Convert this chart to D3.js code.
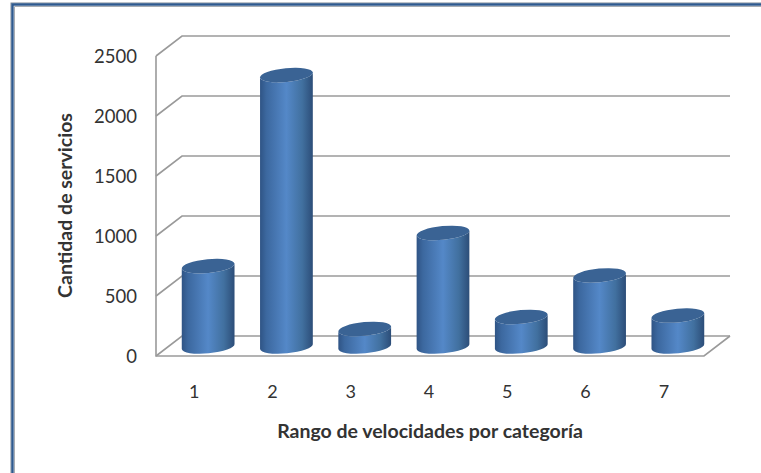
<!DOCTYPE html>
<html>
<head>
<meta charset="utf-8">
<script src="https://cdn.jsdelivr.net/npm/d3@7"></script>
<style>
html,body{margin:0;padding:0;background:#fff;}
svg{display:block;}
text{font-family:Lato,"Open Sans",sans-serif;fill:#333;}
</style>
</head>
<body>
<svg id="chart" width="761" height="473"></svg>
<script>
// Chart data
const categories = [1, 2, 3, 4, 5, 6, 7];
const services = [670, 2262, 146, 946, 246, 592, 258];
const yTicks = [0, 500, 1000, 1500, 2000, 2500];
const xTitle = "Rango de velocidades por categoría";
const yTitle = "Cantidad de servicios";

const svg = d3.select("#chart");

// Frame around the chart area
svg.append("rect").attr("x", 11).attr("y", 3).attr("width", 760).attr("height", 490)
  .attr("fill", "#fff").attr("stroke", "#808a96").attr("stroke-width", 1);
svg.append("path").attr("d", "M12.5,473V4.5H761").attr("fill", "none")
  .attr("stroke", "#2f5a8f").attr("stroke-width", 2.4);
svg.append("path").attr("d", "M14.5,473V6.5H761").attr("fill", "none")
  .attr("stroke", "#a9adb2").attr("stroke-width", 1);

// Front plane scales, with the depth offset of the 3D box
const depthX = 26, depthY = -20;
const x = d3.scaleBand().domain(categories).range([156, 704]);
const y = d3.scaleLinear().domain([0, 2500]).range([356, 56]);
// Bars stand in the middle of the box depth
const yBar = d3.scaleLinear().domain([0, 2500]).range([346.5, 46.5]);

const gridColor = "#9a9a9a";
const box = svg.append("g").attr("fill", "none").attr("stroke", gridColor).attr("stroke-width", 1.6);

// Gridlines: left wall diagonal plus back wall run
box.selectAll("path.grid").data(yTicks).join("path").attr("class", "grid")
  .attr("d", d => {
    const p = d3.path();
    p.moveTo(156, y(d));
    p.lineTo(156 + depthX, y(d) + depthY);
    p.lineTo(704 + depthX, y(d) + depthY);
    return p.toString();
  });

// Left wall front edge and floor outline
box.append("path").attr("d", () => {
  const p = d3.path();
  p.moveTo(156, y(2500));
  p.lineTo(156, y(0));
  p.lineTo(704, y(0));
  p.lineTo(704 + depthX, y(0) + depthY);
  return p.toString();
});

// Horizontal shading of the cylinder walls
const defs = svg.append("defs");
const grad = defs.append("linearGradient").attr("id", "wall")
  .attr("x1", "0").attr("x2", "1").attr("y1", "0").attr("y2", "0");
[[0, "#2f5485"], [0.12, "#3c689f"], [0.5, "#5488c8"], [0.8, "#41709f"], [1, "#2c4d78"]]
  .forEach(([o, c]) => grad.append("stop").attr("offset", o).attr("stop-color", c));

// Cylinders
const rx = 26.5, ry = 6.9, tilt = 5.5;
const dx = rx * Math.cos(tilt * Math.PI / 180), dy = rx * Math.sin(tilt * Math.PI / 180);
const bars = svg.append("g").selectAll("g").data(categories.map((c, i) => ({ c, v: services[i] })))
  .join("g");

bars.append("path")
  .attr("fill", "url(#wall)")
  .attr("d", d => {
    const cx = x(d.c) + x.bandwidth() / 2 + depthX / 2;
    const t = yBar(d.v), b = yBar(0);
    return `M${cx - dx},${t + dy}L${cx - dx},${b + dy}` +
      `A${rx},${ry} ${-tilt} 0 0 ${cx + dx},${b - dy}` +
      `L${cx + dx},${t - dy}` +
      `A${rx},${ry} ${-tilt} 0 1 ${cx - dx},${t + dy}Z`;
  });

bars.append("ellipse")
  .attr("fill", "#3a6394")
  .attr("rx", rx).attr("ry", ry)
  .attr("transform", d => {
    const cx = x(d.c) + x.bandwidth() / 2 + depthX / 2;
    return `translate(${cx},${yBar(d.v)}) rotate(${-tilt})`;
  });

// Axis labels
svg.append("g").selectAll("text").data(yTicks).join("text")
  .attr("x", 137).attr("y", d => y(d) + 6.5)
  .attr("text-anchor", "end").attr("font-size", 18.5)
  .text(d => d);

svg.append("g").selectAll("text").data(categories).join("text")
  .attr("x", d => x(d) + x.bandwidth() / 2 - 1).attr("y", 398)
  .attr("text-anchor", "middle").attr("font-size", 18)
  .text(d => d);

// Axis titles
svg.append("text").attr("x", 430).attr("y", 438)
  .attr("text-anchor", "middle").attr("font-size", 19.5).attr("font-weight", 700)
  .attr("fill", "#222").text(xTitle);

svg.append("text").attr("transform", "translate(72,205.5) rotate(-90)")
  .attr("text-anchor", "middle").attr("font-size", 19.5).attr("font-weight", 700)
  .attr("fill", "#222").text(yTitle);
</script>
</body>
</html>
